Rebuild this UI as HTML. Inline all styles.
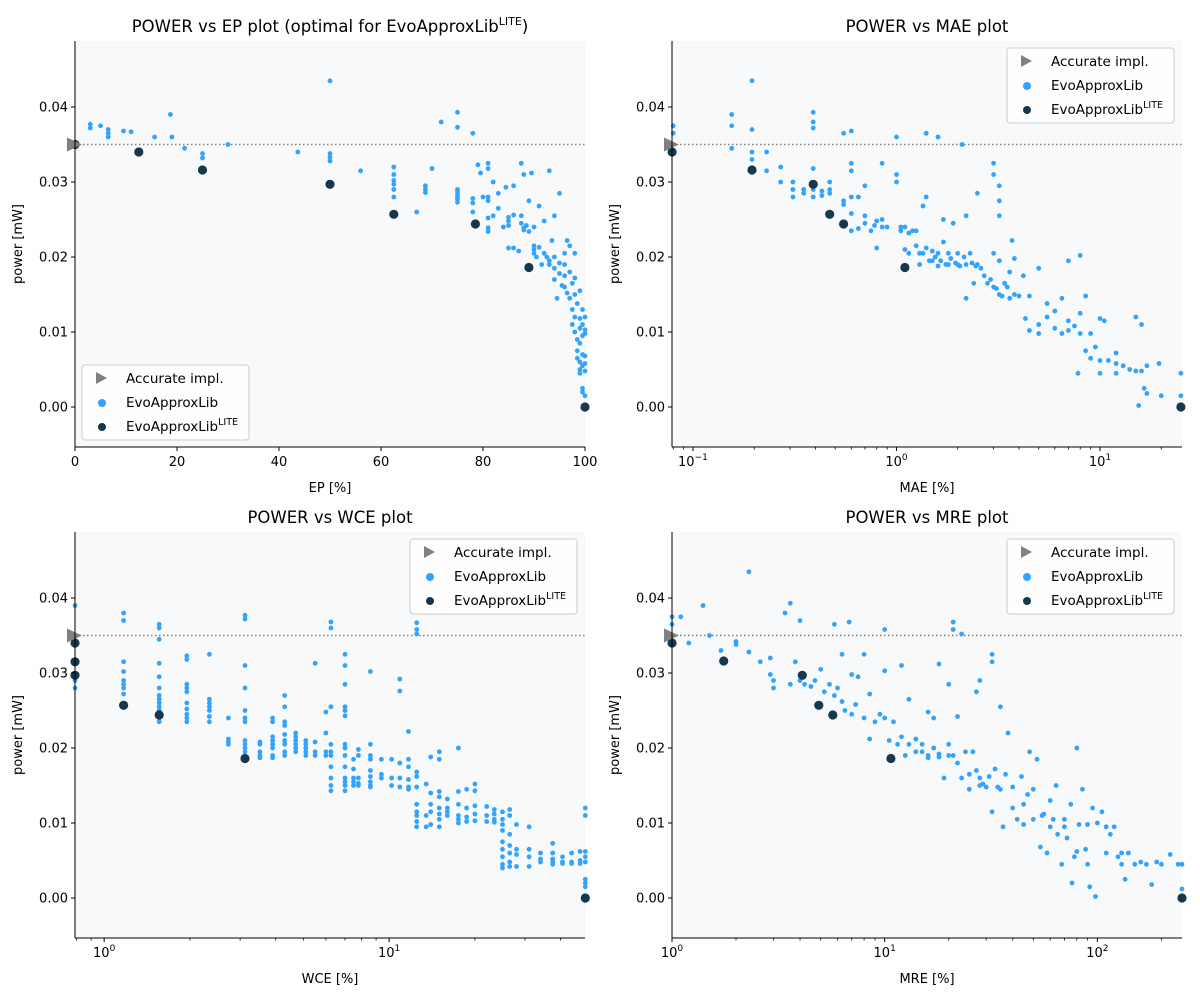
<!DOCTYPE html>
<html><head><meta charset="utf-8">
<style>
html,body{margin:0;padding:0;background:#fff;}
svg text{font-family:"DejaVu Sans","Liberation Sans",sans-serif;fill:#000;}
</style></head>
<body>
<svg id="fig" width="1200" height="1000" xmlns="http://www.w3.org/2000/svg"></svg>
<script>
// ---------- DATA ----------
const epBlue = [[3,0.0377],[3,0.0372],[5,0.0375],[6.5,0.037],[6.5,0.0365],[6.5,0.036],[9.5,0.0368],[11,0.0367],[15.6,0.036],[18.7,0.039],[19,0.036],[21.5,0.0345],[25,0.0338],[25,0.0332],[30,0.035],[43.7,0.034],[50,0.0435],[50,0.0338],[50,0.0333],[50,0.0328],[56,0.0315],[62.5,0.032],[62.5,0.031],[62.5,0.0302],[62.5,0.0297],[62.5,0.029],[62.5,0.028],[67,0.026],[68.7,0.0295],[68.7,0.029],[68.7,0.0286],[70,0.0318],[71.8,0.038],[75,0.0393],[75,0.0373],[75,0.029],[75,0.0287],[75,0.0283],[75,0.028],[75,0.0277],[75,0.0273],[78,0.0365],[78,0.0278],[78,0.0272],[78,0.026],[79,0.0323],[79.5,0.0312],[80,0.028],[81,0.0325],[81,0.0318],[81,0.028],[81,0.0275],[81,0.0252],[81,0.0239],[81,0.0234],[82,0.03],[82,0.0255],[83,0.0285],[83,0.0265],[84,0.024],[84.5,0.0293],[85,0.0253],[85,0.0248],[85,0.0242],[85,0.0212],[86,0.0295],[86,0.0256],[86,0.0212],[87,0.0208],[87.5,0.0325],[87.5,0.0255],[87.5,0.0245],[88,0.0239],[88,0.0236],[88,0.031],[88.5,0.0242],[89,0.0234],[89,0.0275],[89.5,0.0312],[90,0.024],[90,0.0215],[90,0.021],[90,0.0205],[90.5,0.02],[91,0.0268],[91,0.0213],[91.5,0.019],[92,0.0248],[92,0.0205],[92.5,0.02],[93,0.0315],[93,0.0195],[93,0.019],[93.5,0.0222],[94,0.0255],[94,0.02],[94,0.0185],[94,0.017],[94.5,0.0145],[95,0.0285],[95,0.0192],[95,0.0178],[95.5,0.0162],[96,0.0205],[96,0.019],[96,0.0175],[96,0.016],[96.5,0.0222],[96.5,0.0152],[97,0.0215],[97,0.018],[97,0.0145],[97.5,0.0165],[97.5,0.013],[97.5,0.011],[98,0.0205],[98,0.0172],[98,0.015],[98,0.012],[98,0.01],[98.5,0.0138],[98.5,0.009],[98.5,0.0075],[98.5,0.0065],[99,0.0155],[99,0.0118],[99,0.0105],[99,0.0085],[99,0.006],[99,0.005],[99,0.0045],[99.5,0.013],[99.5,0.011],[99.5,0.0095],[99.5,0.007],[99.5,0.0055],[99.5,0.0025],[99.5,0.002],[100,0.012],[100,0.0103],[100,0.0098],[100,0.0068],[100,0.0058],[100,0.0048],[100,0.0015]];
const epLite = [[0,0.035],[12.5,0.034],[25,0.0316],[50,0.0297],[62.5,0.0257],[78.5,0.0244],[89,0.0186],[100,0]];

const maeBlue = [[0.08,0.0375],[0.08,0.0365],[0.155,0.039],[0.155,0.0375],[0.155,0.0345],[0.195,0.0435],[0.195,0.037],[0.195,0.034],[0.195,0.033],[0.23,0.034],[0.23,0.0315],[0.27,0.032],[0.27,0.03],[0.31,0.03],[0.31,0.029],[0.31,0.028],[0.35,0.029],[0.35,0.0285],[0.39,0.0393],[0.39,0.038],[0.39,0.0372],[0.39,0.0318],[0.39,0.029],[0.39,0.028],[0.43,0.0288],[0.43,0.0282],[0.47,0.03],[0.47,0.029],[0.47,0.0285],[0.55,0.0365],[0.55,0.0275],[0.55,0.027],[0.6,0.0368],[0.6,0.0325],[0.6,0.0315],[0.6,0.028],[0.6,0.0258],[0.6,0.0235],[0.65,0.028],[0.65,0.0238],[0.7,0.0295],[0.7,0.0255],[0.7,0.0245],[0.75,0.0235],[0.78,0.0242],[0.8,0.0248],[0.8,0.0212],[0.85,0.0325],[0.85,0.025],[0.85,0.024],[0.9,0.024],[1.0,0.036],[1.0,0.031],[1.0,0.03],[1.05,0.024],[1.05,0.0235],[1.1,0.024],[1.1,0.021],[1.15,0.0205],[1.2,0.0235],[1.25,0.0235],[1.25,0.0215],[1.3,0.0205],[1.3,0.019],[1.35,0.0268],[1.4,0.0365],[1.4,0.028],[1.4,0.0212],[1.5,0.0208],[1.5,0.0195],[1.6,0.036],[1.6,0.0205],[1.6,0.0188],[1.7,0.025],[1.7,0.022],[1.8,0.0205],[1.8,0.019],[1.9,0.0245],[2.0,0.0205],[2.0,0.019],[2.1,0.035],[2.2,0.0255],[2.2,0.019],[2.2,0.0145],[2.3,0.0205],[2.4,0.0165],[2.5,0.0285],[2.5,0.019],[2.6,0.0185],[2.8,0.0165],[3.0,0.0325],[3.0,0.031],[3.0,0.0205],[3.0,0.016],[3.2,0.0295],[3.2,0.0275],[3.2,0.0255],[3.2,0.0195],[3.2,0.015],[3.4,0.0165],[3.5,0.016],[3.6,0.018],[3.7,0.0222],[3.8,0.0198],[3.8,0.015],[4.0,0.0148],[4.2,0.0175],[4.3,0.0118],[4.5,0.0148],[4.5,0.0102],[5.0,0.0185],[5.0,0.011],[5.0,0.0098],[5.5,0.0138],[5.5,0.012],[6.0,0.0128],[6.0,0.0105],[6.5,0.0145],[6.5,0.0098],[7.0,0.0195],[7.0,0.0115],[7.0,0.0102],[7.5,0.0108],[7.8,0.0045],[8.0,0.0202],[8.0,0.0125],[8.0,0.0098],[8.5,0.0148],[8.5,0.0075],[9,0.0098],[9,0.0065],[9.5,0.008],[10,0.0118],[10,0.0062],[10,0.0045],[10.5,0.0115],[11,0.0062],[12,0.0072],[12,0.0058],[12,0.0045],[13,0.0055],[14,0.005],[15,0.012],[15,0.0048],[15.5,0.0002],[16,0.011],[16,0.0048],[16.5,0.0025],[17,0.0055],[17,0.0018],[19.5,0.0058],[20,0.0015],[25,0.0045],[25,0.0015],
 [1.15,0.0232],[1.35,0.0205],[1.45,0.0195],[1.55,0.02],[1.65,0.0195],[1.75,0.019],[1.85,0.0198],[1.95,0.0192],[2.05,0.0188],[2.15,0.02],[2.35,0.0192],[2.45,0.0188],[2.7,0.0175],[2.9,0.017],[3.1,0.0158],[3.3,0.0148],[3.6,0.0145]];
const maeLite = [[0.079,0.034],[0.195,0.0316],[0.39,0.0297],[0.47,0.0257],[0.55,0.0244],[1.1,0.0186],[25,0]];

const wceCols = [0.79,1.17,1.56,1.95,2.34,2.73,3.12,3.52,3.9,4.3,4.7,5.1,5.5,6.0,6.25,7.0,7.5,7.8,8.6,9.4,10.2,10.9,11.7,12.5,13.5,14,15,16,17.5,18.7,20,22,23.4,25,26.5,28,31,34,37.5,40.6,43.7,46.8,48.8];
const wcePower = [
 [0.039,0.0295,0.029,0.028],
 [0.038,0.037,0.0315,0.0302,0.029,0.0285,0.028,0.0272,0.026],
 [0.0365,0.036,0.0345,0.0313,0.0295,0.028,0.027,0.0265,0.026,0.0255,0.025,0.0245,0.024,0.0235],
 [0.0323,0.0318,0.0285,0.028,0.0275,0.026,0.0252,0.0245,0.024,0.0235],
 [0.0325,0.0265,0.026,0.0255,0.025,0.0242,0.0235],
 [0.024,0.0212,0.0208,0.0205],
 [0.0377,0.0372,0.031,0.028,0.025,0.024,0.0235,0.021,0.0205,0.02,0.0195],
 [0.0208,0.0205,0.0195,0.019,0.0187],
 [0.024,0.0235,0.0215,0.021,0.0205,0.02,0.019,0.0187],
 [0.027,0.0255,0.0235,0.023,0.0218,0.021,0.0205,0.0195,0.019],
 [0.022,0.0215,0.021,0.0205,0.02,0.0195],
 [0.021,0.0205,0.02,0.0195,0.019],
 [0.0313,0.0208,0.0195,0.019],
 [0.0248,0.022,0.0195,0.019],
 [0.0368,0.036,0.0255,0.0205,0.0195,0.019,0.0175,0.016,0.015,0.0143],
 [0.0325,0.031,0.0285,0.0255,0.025,0.0243,0.0205,0.02,0.019,0.0175,0.016,0.0155,0.015,0.0143],
 [0.0185,0.0172,0.016,0.0155,0.015],
 [0.0198,0.019,0.016,0.0153,0.015],
 [0.0302,0.0205,0.019,0.0185,0.017,0.0162,0.0155,0.015,0.0148],
 [0.0185,0.0165,0.016],
 [0.0185,0.016,0.015],
 [0.0292,0.0276,0.018,0.016,0.0148],
 [0.0222,0.0185,0.0175,0.0158,0.0148,0.0145],
 [0.0367,0.0358,0.0352,0.0168,0.0162,0.0148,0.0125,0.0115,0.011,0.0102,0.0095],
 [0.0152,0.011,0.0095],
 [0.0188,0.014,0.0125,0.0115,0.0098],
 [0.0195,0.0185,0.0142,0.0135,0.012,0.0112,0.0105,0.0095],
 [0.0132,0.012,0.0115,0.011],
 [0.02,0.0142,0.0125,0.011,0.0105,0.01],
 [0.0145,0.012,0.0108,0.0102],
 [0.0152,0.0143,0.0123,0.0112,0.0103],
 [0.0122,0.011,0.0102],
 [0.0118,0.0112,0.0105,0.0101],
 [0.0115,0.0105,0.0098,0.009,0.0075,0.0065,0.0055,0.0045,0.004],
 [0.0118,0.011,0.0085,0.007,0.006,0.0048,0.0042],
 [0.0098,0.0065,0.0058,0.0042],
 [0.0095,0.0065,0.0055,0.0042],
 [0.006,0.0052,0.0048],
 [0.0073,0.006,0.0052,0.0048,0.0045],
 [0.0055,0.0048,0.0046],
 [0.006,0.0048,0.0046],
 [0.0062,0.005,0.0046],
 [0.012,0.011,0.0062,0.0055,0.0048,0.0025,0.002,0.0015]];
const wceLite = [[0.79,0.034],[0.79,0.0315],[0.79,0.0297],[1.17,0.0257],[1.56,0.0244],[3.12,0.0186],[48.8,0]];

const mreBlue = [[1,0.0375],[1,0.0365],[1.1,0.0375],[1.2,0.034],[1.4,0.039],[1.5,0.035],[1.7,0.033],[2,0.0342],[2,0.0338],[2.3,0.0435],[2.3,0.0328],[2.6,0.0315],[2.9,0.032],[2.9,0.0298],[3,0.029],[3,0.028],[3.4,0.038],[3.6,0.0393],[3.6,0.0285],[3.8,0.0315],[4,0.037],[4,0.029],[4.2,0.0285],[4.5,0.0282],[4.7,0.029],[5,0.0305],[5.2,0.0275],[5.5,0.0285],[5.8,0.0365],[5.8,0.027],[6,0.028],[6.3,0.0325],[6.3,0.0262],[6.5,0.025],[6.8,0.0368],[7,0.0298],[7,0.0245],[7.3,0.0258],[7.5,0.0295],[8,0.0325],[8,0.024],[8.5,0.0212],[8.5,0.0272],[9,0.0235],[9.5,0.0245],[10,0.0358],[10,0.0303],[10,0.024],[10.5,0.021],[11,0.0235],[11.5,0.0205],[12,0.031],[12,0.0215],[12.5,0.019],[13,0.0265],[13,0.0205],[14,0.0212],[15,0.0205],[15,0.0195],[16,0.0248],[16,0.0187],[17,0.024],[17,0.02],[18,0.0312],[18,0.0192],[19,0.016],[20,0.0285],[20,0.0205],[21,0.0368],[21,0.0358],[21,0.019],[22,0.018],[22,0.0242],[23,0.0352],[23,0.016],[24,0.0195],[25,0.0145],[26,0.0195],[27,0.0275],[27,0.017],[28,0.029],[28,0.016],[29,0.0152],[30,0.0148],[31,0.0162],[32,0.0325],[32,0.0315],[32,0.0115],[33,0.0172],[34,0.0148],[35,0.0255],[36,0.0095],[37,0.0165],[38,0.022],[40,0.0148],[40,0.012],[42,0.0105],[44,0.0162],[45,0.0098],[47,0.0138],[48,0.0195],[50,0.0145],[50,0.0105],[52,0.0185],[54,0.0068],[56,0.0112],[58,0.006],[60,0.013],[62,0.0105],[64,0.015],[65,0.0085],[68,0.0045],[70,0.0105],[72,0.008],[75,0.0125],[76,0.002],[78,0.0055],[80,0.02],[82,0.0098],[85,0.0145],[88,0.0065],[90,0.0045],[92,0.0015],[95,0.012],[98,0.0002],[100,0.01],[105,0.0115],[110,0.006],[115,0.0085],[120,0.0095],[125,0.0055],[130,0.0045],[135,0.0025],[140,0.006],[150,0.0045],[170,0.0045],[180,0.0018],[190,0.0048],[200,0.0045],[220,0.0058],[240,0.0045],[250,0.0045],[250,0.0012],
 [14,0.0195],[16,0.019],[18,0.0188],[20,0.019],[25,0.0165],[28,0.015],[35,0.0145],[45,0.0125],[55,0.011],[60,0.0095],[70,0.0095],[80,0.0062],[90,0.0098],[110,0.0095],[130,0.006],[160,0.0048]];
const mreLite = [[1,0.034],[1.75,0.0316],[4.1,0.0297],[4.9,0.0257],[5.7,0.0244],[10.7,0.0186],[250,0]];

const yTicks = [0,0.01,0.02,0.03,0.04];
const yTickLabels = ["0.00","0.01","0.02","0.03","0.04"];
const accuratePower = 0.035;

// ---------- DRAWING ----------
const NS = "http://www.w3.org/2000/svg";
const svg = document.getElementById('fig');
const BLUE = "#33a3ff", DARK = "#17384c";
function el(tag, attrs, parent){ const e=document.createElementNS(NS,tag); for(const k in attrs) e.setAttribute(k,attrs[k]); (parent||svg).appendChild(e); return e; }

function panel(o){
  const g = el('g',{});
  
  
  const L=o.x0, R=o.x0+510, T=o.y0, B=o.y0+406;
  const ymin=-0.00533, ymax=0.0488;
  const sy = v => B - (v-ymin)/(ymax-ymin)*(B-T);
  const sx = o.log ? (v => L + (Math.log10(v)-Math.log10(o.xmin))/(Math.log10(o.xmax)-Math.log10(o.xmin))*(R-L))
                   : (v => L + (v-o.xmin)/(o.xmax-o.xmin)*(R-L));
  const bg = el('rect',{x:L,y:T,width:R-L,height:B-T,fill:'#f8f9fa'},g);
   
  const ln = el('line',{x1:L,x2:R,y1:sy(accuratePower),y2:sy(accuratePower),stroke:'#808080','stroke-width':1.5,'stroke-dasharray':'1.5,2.5'},g);
   
  const bl = el('g',{fill:BLUE},g);
   
  o.blue.forEach(p=>{ const c=el('circle',{cx:sx(p[0]).toFixed(1),cy:sy(p[1]).toFixed(1),r:2.4},bl);
      });
  const dk = el('g',{fill:DARK},g);
   
  o.lite.forEach(p=>{ const c=el('circle',{cx:sx(p[0]).toFixed(1),cy:sy(p[1]).toFixed(1),r:4.6},dk);
      });
  const ay=sy(accuratePower);
  const tri = el('polygon',{points:`${L-8},${ay-7} ${L+7},${ay} ${L-8},${ay+7}`,fill:'#808080'},g);
   
  el('line',{x1:L,x2:L,y1:T,y2:B,stroke:'#000','stroke-width':1},g);
  el('line',{x1:L,x2:R,y1:B,y2:B,stroke:'#000','stroke-width':1},g);
  yTicks.forEach((v,i)=>{ const y=sy(v);
    el('line',{x1:L-4,x2:L,y1:y,y2:y,stroke:'#000'},g);
    const t=el('text',{x:L-7,y:y+4.5,'text-anchor':'end','font-size':13},g); t.textContent=yTickLabels[i];
      });
  o.xticks.forEach(tk=>{ const x=sx(tk.v);
    el('line',{x1:x,x2:x,y1:B,y2:B+4,stroke:'#000'},g);
    const t=el('text',{x:x,y:B+19,'text-anchor':'middle','font-size':13},g);
    if(tk.exp!==undefined){ const a=el('tspan',{},t); a.textContent='10';
      const b=el('tspan',{dy:-6,'font-size':9},t); b.textContent=tk.exp; }
    else t.textContent=tk.label;
      });
  (o.minor||[]).forEach(v=>{ const x=sx(v); el('line',{x1:x,x2:x,y1:B,y2:B+2.5,stroke:'#000','stroke-width':0.8},g); });
  const xl=el('text',{x:(L+R)/2,y:B+45,'text-anchor':'middle','font-size':13},g); xl.textContent=o.xlabel;
   
  const yl=el('text',{x:0,y:0,'text-anchor':'middle','font-size':13,transform:`translate(${L-53},${(T+B)/2}) rotate(-90)`},g); yl.textContent='power [mW]';
   
  const ti=el('text',{x:(L+R)/2,y:T-9,'text-anchor':'middle','font-size':16.5},g);
   
  if(o.lite_title){ const a=el('tspan',{},ti); a.textContent=o.title; const b=el('tspan',{dy:-7,'font-size':11},ti); b.textContent='LITE'; const c=el('tspan',{dy:7},ti); c.textContent=')'; }
  else ti.textContent=o.title;
  const lg=el('g',{},g);  
  const lx=o.leg[0], ly=o.leg[1];
  el('rect',{x:lx,y:ly,width:167,height:75,rx:3,fill:'rgba(255,255,255,0.85)',stroke:'#ccc'},lg);
  el('polygon',{points:`${lx+14},${ly+7} ${lx+25},${ly+13} ${lx+14},${ly+19}`,fill:'#808080'},lg);
  el('circle',{cx:lx+20,cy:ly+38,r:4,fill:BLUE},lg);
  el('circle',{cx:lx+20,cy:ly+62,r:4,fill:DARK},lg);
  const names=['Accurate impl.','EvoApproxLib','EvoApproxLib'];
  names.forEach((n,i)=>{ const t=el('text',{x:lx+44,y:ly+18+i*24,'font-size':13.5},lg);
     
    const a=el('tspan',{},t); a.textContent=n;
    if(i===2){ const b=el('tspan',{dy:-6,'font-size':9.5},t); b.textContent='LITE'; } });
}

const wceBlue = [];
wceCols.forEach((x,i)=>wcePower[i].forEach(y=>wceBlue.push([x,y])));

panel({name:'ep-chart',x0:75,y0:41,xmin:0,xmax:100,log:false,blue:epBlue,lite:epLite,
  xticks:[0,20,40,60,80,100].map(v=>({v:v,label:String(v)})),xlabel:'EP [%]',
  title:'POWER vs EP plot (optimal for EvoApproxLib',lite_title:true,leg:[82,365]});
panel({name:'mae-chart',x0:672,y0:41,xmin:0.0789,xmax:25.3,log:true,blue:maeBlue,lite:maeLite,
  xticks:[{v:0.1,exp:'−1'},{v:1,exp:'0'},{v:10,exp:'1'}],
  minor:[0.08,0.09,0.2,0.3,0.4,0.5,0.6,0.7,0.8,0.9,2,3,4,5,6,7,8,9,20],
  xlabel:'MAE [%]',title:'POWER vs MAE plot',leg:[1007,48]});
panel({name:'wce-chart',x0:75,y0:532,xmin:0.79,xmax:48.7,log:true,blue:wceBlue,lite:wceLite,
  xticks:[{v:1,exp:'0'},{v:10,exp:'1'}],
  minor:[0.8,0.9,2,3,4,5,6,7,8,9,20,30,40],
  xlabel:'WCE [%]',title:'POWER vs WCE plot',leg:[410,539]});
panel({name:'mre-chart',x0:672,y0:532,xmin:1,xmax:250,log:true,blue:mreBlue,lite:mreLite,
  xticks:[{v:1,exp:'0'},{v:10,exp:'1'},{v:100,exp:'2'}],
  minor:[2,3,4,5,6,7,8,9,20,30,40,50,60,70,80,90,200],
  xlabel:'MRE [%]',title:'POWER vs MRE plot',leg:[1007,539]});
</script>
</body></html>
